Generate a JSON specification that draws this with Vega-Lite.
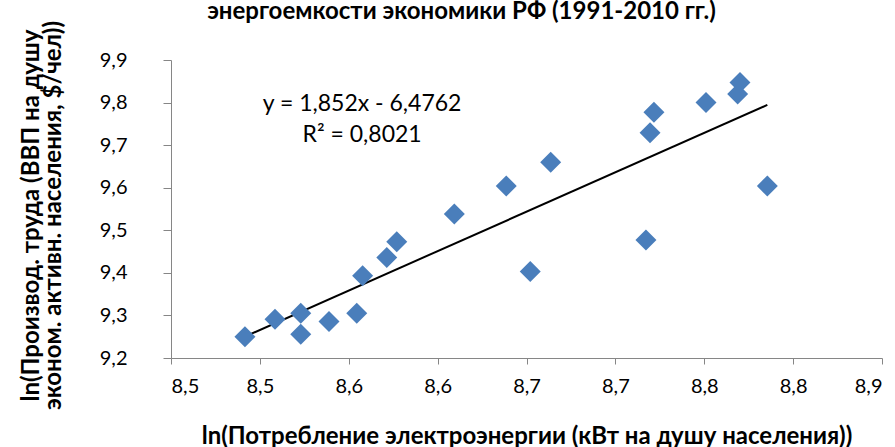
{
  "$schema": "https://vega.github.io/schema/vega-lite/v6.json",
  "width": 711,
  "height": 298,
  "autosize": "none",
  "padding": {"left": 171, "top": 60, "right": 13, "bottom": 89},
  "background": "white",
  "config": {
    "view": {"stroke": null},
    "font": "Lato",
    "axis": {"grid": false, "domainColor": "#868686", "tickColor": "#868686", "labelColor": "#000000", "titleColor": "#000000", "labelFont": "Lato", "titleFont": "Lato"}
  },
  "title": {
    "text": "энергоемкости экономики РФ (1991-2010 гг.)",
    "anchor": "middle",
    "frame": "group",
    "dx": -65,
    "dy": 28,
    "offset": 0,
    "baseline": "bottom",
    "fontSize": 24,
    "fontWeight": "bold",
    "font": "Lato",
    "color": "#000000"
  },
  "datasets": {
    "points": [
      {"x": 8.4916, "y": 9.250},
      {"x": 8.5085, "y": 9.291},
      {"x": 8.5230, "y": 9.305},
      {"x": 8.5230, "y": 9.256},
      {"x": 8.5389, "y": 9.286},
      {"x": 8.5545, "y": 9.305},
      {"x": 8.5578, "y": 9.393},
      {"x": 8.5714, "y": 9.436},
      {"x": 8.5770, "y": 9.473},
      {"x": 8.6094, "y": 9.538},
      {"x": 8.6386, "y": 9.604},
      {"x": 8.6521, "y": 9.403},
      {"x": 8.6636, "y": 9.660},
      {"x": 8.7172, "y": 9.477},
      {"x": 8.7195, "y": 9.729},
      {"x": 8.7217, "y": 9.777},
      {"x": 8.7510, "y": 9.800},
      {"x": 8.7688, "y": 9.820},
      {"x": 8.7701, "y": 9.847},
      {"x": 8.7855, "y": 9.604}
    ],
    "trend": [
      {"x": 8.4916, "y": 9.2503},
      {"x": 8.7855, "y": 9.7945}
    ],
    "labels": [
      {"x": 8.5575, "y": 9.7967, "text": "y = 1,852x - 6,4762"},
      {"x": 8.5575, "y": 9.7238, "text": "R² = 0,8021"}
    ]
  },
  "layer": [
    {
      "data": {"name": "trend"},
      "mark": {"type": "line", "color": "#000000", "strokeWidth": 2},
      "encoding": {
        "x": {
          "field": "x", "type": "quantitative",
          "scale": {"domain": [8.45, 8.85], "zero": false, "nice": false},
          "axis": {
            "values": [8.45, 8.5, 8.55, 8.6, 8.65, 8.7, 8.75, 8.8, 8.85],
            "labelExpr": "replace(format(datum.value + 0.0001, '.1f'), '.', ',')",
            "tickSize": 6,
            "labelFontSize": 20,
            "labelPadding": 12,
            "title": "ln(Потребление электроэнергии (кВт на душу населения))",
            "titleFontSize": 24,
            "titleFontWeight": "bold",
            "titleY": 78,
            "titleBaseline": "middle"
          }
        },
        "y": {
          "field": "y", "type": "quantitative",
          "scale": {"domain": [9.2, 9.9], "zero": false, "nice": false},
          "axis": {
            "values": [9.2, 9.3, 9.4, 9.5, 9.6, 9.7, 9.8, 9.9],
            "labelExpr": "replace(format(datum.value, '.1f'), '.', ',')",
            "tickSize": 8,
            "labelFontSize": 20,
            "labelPadding": 36,
            "title": ["ln(Производ. труда (ВВП на душу", "эконом. активн. населения, $/чел))"],
            "titleFontSize": 24,
            "titleFontWeight": "bold",
            "titleLineHeight": 22,
            "titleX": -140,
            "titleY": 155,
            "titleBaseline": "middle",
            "titleAlign": "center",
            "titleAngle": -90
          }
        }
      }
    },
    {
      "data": {"name": "points"},
      "mark": {"type": "point", "shape": "diamond", "filled": true, "size": 440, "color": "#4A7EBB", "opacity": 1},
      "encoding": {
        "x": {"field": "x", "type": "quantitative"},
        "y": {"field": "y", "type": "quantitative"}
      }
    },
    {
      "data": {"name": "labels"},
      "mark": {"type": "text", "fontSize": 23, "font": "Lato", "color": "#000000", "align": "center", "baseline": "middle"},
      "encoding": {
        "x": {"field": "x", "type": "quantitative"},
        "y": {"field": "y", "type": "quantitative"},
        "text": {"field": "text", "type": "nominal"}
      }
    }
  ]
}
